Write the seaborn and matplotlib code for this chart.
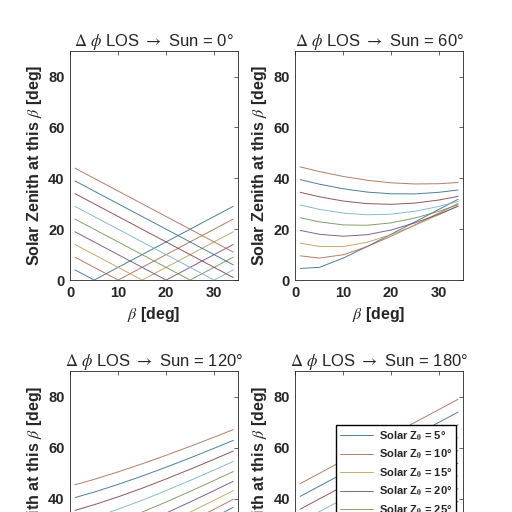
import numpy as np
import pandas as pd
import matplotlib
matplotlib.use('Agg')
import matplotlib.pyplot as plt
import seaborn as sns

sns.set_style('white')
plt.rcParams['font.family'] = ['Liberation Sans', 'DejaVu Sans']
plt.rcParams['mathtext.fontset'] = 'stix'

# beta grid [deg] and solar zenith angles
beta = [1, 5, 10, 15, 20, 25, 30, 34]
z0_list = [5, 10, 15, 20, 25, 30, 35, 40, 45]
dphi_list = [0, 60, 120, 180]

zen_0 = [
    [4, 0, 5, 10, 15, 20, 25, 29],
    [9, 5, 0, 5, 10, 15, 20, 24],
    [14, 10, 5, 0, 5, 10, 15, 19],
    [19, 15, 10, 5, 0, 5, 10, 14],
    [24, 20, 15, 10, 5, 0, 5, 9],
    [29, 25, 20, 15, 10, 5, 0, 4],
    [34, 30, 25, 20, 15, 10, 5, 1],
    [39, 35, 30, 25, 20, 15, 10, 6],
    [44, 40, 35, 30, 25, 20, 15, 11],
]
zen_60 = [
    [4.58, 4.99, 8.65, 13.21, 18.01, 22.89, 27.81, 31.76],
    [9.54, 8.65, 9.96, 13.16, 17.23, 21.69, 26.33, 30.12],
    [14.53, 13.21, 13.16, 14.87, 17.84, 21.55, 25.68, 29.17],
    [19.52, 18.01, 17.23, 17.84, 19.69, 22.49, 25.93, 29.00],
    [24.52, 22.89, 21.69, 21.55, 22.49, 24.40, 27.06, 29.60],
    [29.51, 27.81, 26.33, 25.68, 25.93, 27.06, 28.96, 30.93],
    [34.51, 32.75, 31.07, 30.06, 29.79, 30.28, 31.48, 32.92],
    [39.51, 37.71, 35.88, 34.60, 33.93, 33.89, 34.51, 35.43],
    [44.51, 42.67, 40.74, 39.24, 38.24, 37.79, 37.89, 38.38],
]
zen_120 = [
    [5.57, 8.66, 13.22, 18.02, 22.90, 27.81, 32.76, 36.73],
    [10.54, 13.22, 17.30, 21.76, 26.40, 31.15, 35.96, 39.84],
    [15.52, 18.02, 21.76, 25.90, 30.30, 34.84, 39.48, 43.25],
    [20.52, 22.90, 26.40, 30.30, 34.46, 38.80, 43.26, 46.89],
    [25.51, 27.81, 31.15, 34.84, 38.80, 42.94, 47.22, 50.72],
    [30.51, 32.76, 35.96, 39.48, 43.26, 47.22, 51.32, 54.68],
    [35.51, 37.72, 40.81, 44.19, 47.81, 51.60, 55.53, 58.75],
    [40.51, 42.68, 45.69, 48.95, 52.42, 56.05, 59.82, 62.91],
    [45.51, 47.66, 50.58, 53.74, 57.08, 60.57, 64.18, 67.14],
]
zen_180 = [
    [6, 10, 15, 20, 25, 30, 35, 39],
    [11, 15, 20, 25, 30, 35, 40, 44],
    [16, 20, 25, 30, 35, 40, 45, 49],
    [21, 25, 30, 35, 40, 45, 50, 54],
    [26, 30, 35, 40, 45, 50, 55, 59],
    [31, 35, 40, 45, 50, 55, 60, 64],
    [36, 40, 45, 50, 55, 60, 65, 69],
    [41, 45, 50, 55, 60, 65, 70, 74],
    [46, 50, 55, 60, 65, 70, 75, 79],
]

# matlab default line order, muted like in the original figure
colors = ['#0072BD', '#D95319', '#EDB120', '#7E2F8E', '#77AC30',
          '#4DBEEE', '#A2142F', '#0072BD', '#D95319']
palette = [sns.desaturate(c, 0.5) for c in colors]
labels = [f'Solar Z$_\\mathbf{{0}}$ = {z}°' for z in z0_list]

rows = []
for d, table in zip(dphi_list, [zen_0, zen_60, zen_120, zen_180]):
    for lab, vals in zip(labels, table):
        for b, v in zip(beta, vals):
            rows.append({'dphi': d, 'beta': b, 'zenith': v, 'label': lab})
df = pd.DataFrame(rows)

fig = plt.figure(figsize=(5.12, 5.12), dpi=100)
positions = [[0.137, 0.453, 0.328, 0.447],
             [0.577, 0.453, 0.327, 0.447],
             [0.137, -0.174, 0.328, 0.449],
             [0.577, -0.174, 0.327, 0.449]]

for d, pos in zip(dphi_list, positions):
    ax = fig.add_axes(pos)
    sns.lineplot(data=df[df.dphi == d], x='beta', y='zenith', hue='label',
                 hue_order=labels, palette=palette, linewidth=0.7, alpha=0.85,
                 ax=ax, legend=(d == 180))
    ax.set_xlim(0, 35)
    ax.set_ylim(0, 90)
    ax.set_xticks([0, 10, 20, 30])
    ax.set_yticks([0, 20, 40, 60, 80])
    ax.tick_params(direction='in', top=True, right=True, length=3, width=0.5,
                   labelsize=10.5, pad=4, color='0.15')
    for t in ax.get_xticklabels() + ax.get_yticklabels():
        t.set_fontweight('bold')
    for s in ax.spines.values():
        s.set_color('0.15')
        s.set_linewidth(0.6)
    ax.set_title(f'$\\Delta$ $\\phi$ LOS $\\rightarrow$ Sun = {d}°',
                 fontsize=12, fontweight='normal', pad=4)
    ax.set_xlabel(r'$\beta$ [deg]', fontsize=11.5, fontweight='bold')
    ax.set_ylabel(r'Solar Zenith at this $\beta$ [deg]', fontsize=11.5,
                  fontweight='bold', labelpad=3)
    if d == 180:
        h, l = ax.get_legend_handles_labels()
        ax.legend(h, l, loc='upper right', bbox_to_anchor=(0.96, 0.765),
                  borderaxespad=0, prop={'size': 8, 'weight': 'bold'},
                  frameon=True, fancybox=False, edgecolor='black',
                  framealpha=1, handlelength=3.0, handletextpad=0.5,
                  labelspacing=0.45, borderpad=0.35)

fig.savefig('out.png', dpi=100)
